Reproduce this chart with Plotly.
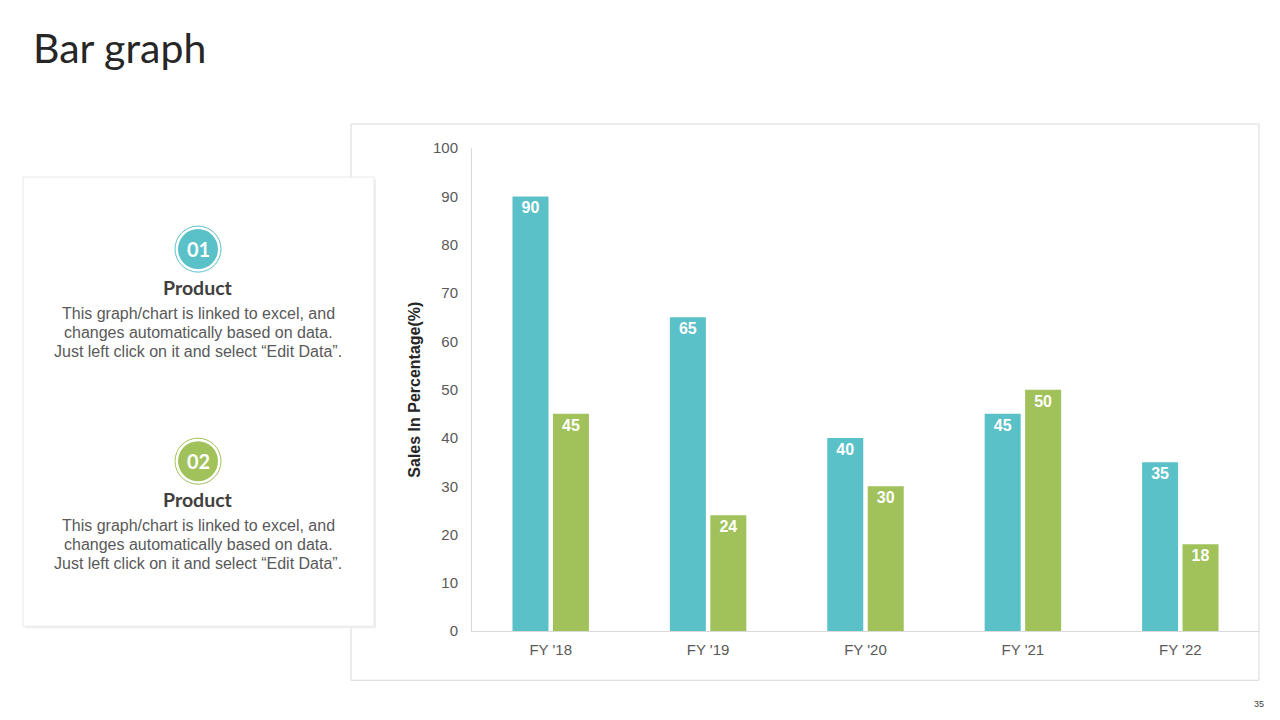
import plotly.graph_objects as go

categories = ["FY '18", "FY '19", "FY '20", "FY '21", "FY '22"]
product_01 = [90, 65, 40, 45, 35]
product_02 = [45, 24, 30, 50, 18]
y_ticks = list(range(0, 101, 10))

TEAL = "#5BC1C8"
GREEN = "#A1C25B"
W, H = 1280, 720

# the rendered page is slightly compressed vertically; compensate
Y_OFF, Y_SCALE = 9.0, 0.976

def px(x):
    return x / W

def py(y):
    s = (y - Y_OFF) / Y_SCALE
    return 1 - s / H

fig = go.Figure()
for name, vals, col in [("Product 01", product_01, TEAL), ("Product 02", product_02, GREEN)]:
    fig.add_trace(go.Bar(
        x=categories, y=vals, name=name, marker=dict(color=col, line=dict(width=0)),
        text=[str(v) for v in vals], textposition="inside", insidetextanchor="end",
        textfont=dict(family="Liberation Sans, Arial", size=16, color="white", weight="bold"),
        textangle=0, cliponaxis=False,
    ))

fig.update_layout(
    width=W, height=H, margin=dict(l=0, r=0, t=0, b=0),
    paper_bgcolor="white", plot_bgcolor="white", showlegend=False,
    barmode="group", bargap=0.486, bargroupgap=0.11,
    uniformtext=dict(minsize=16, mode="show"),
    font=dict(family="Liberation Sans, Arial", color="#595959", size=14),
    xaxis=dict(domain=[px(472), px(1259)], showline=True, linecolor="#D9D9D9", linewidth=1,
               showgrid=False, ticks="", tickfont=dict(size=15, color="#595959"), ticklabelstandoff=5),
    yaxis=dict(domain=[py(631), py(148)], range=[0, 100], tickvals=y_ticks, showline=True,
               linecolor="#D9D9D9", linewidth=1, showgrid=False, zeroline=False, ticks="",
               tickfont=dict(size=15, color="#595959"), ticklabelstandoff=10,
               title=dict(text="Sales In Percentage(%)", standoff=8,
                          font=dict(size=16, color="#262626", weight="bold"))),
)

shapes = []
# chart panel border
shapes.append(dict(type="rect", xref="paper", yref="paper", x0=px(351), x1=px(1259), y0=py(680), y1=py(124),
                   line=dict(color="#D9D9D9", width=1), fillcolor="rgba(0,0,0,0)", layer="below"))
# left panel shadow + box
shapes.append(dict(type="rect", xref="paper", yref="paper", x0=px(25), x1=px(376), y0=py(628), y1=py(179),
                   line=dict(width=0), fillcolor="#F0F0F0", layer="below"))
shapes.append(dict(type="rect", xref="paper", yref="paper", x0=px(23), x1=px(374), y0=py(626), y1=py(177),
                   line=dict(color="#E8E8E8", width=1), fillcolor="white", layer="below"))

badges = [("01", 249, TEAL, 287, [313, 332, 351]), ("02", 461, GREEN, 499, [525, 544, 563])]
body = ["This graph/chart is linked to excel, and",
        "changes automatically based on data.",
        "Just left click on it and select \u201cEdit Data\u201d."]
annotations = []
for num, cy, col, ty, lines in badges:
    cx = 198
    shapes.append(dict(type="circle", xref="paper", yref="paper", x0=px(cx - 23), x1=px(cx + 23),
                       y0=py(cy + 23), y1=py(cy - 23), line=dict(color=col, width=1), fillcolor="white"))
    shapes.append(dict(type="circle", xref="paper", yref="paper", x0=px(cx - 20), x1=px(cx + 20),
                       y0=py(cy + 20), y1=py(cy - 20), line=dict(width=0), fillcolor=col))
    annotations.append(dict(text=num, x=px(cx), y=py(cy), xref="paper", yref="paper", showarrow=False,
                            xanchor="center", yanchor="middle",
                            font=dict(family="Lato, Liberation Sans", size=20, color="white", weight="bold")))
    annotations.append(dict(text="Product", x=px(cx), y=py(ty), xref="paper", yref="paper", showarrow=False,
                            xanchor="center", yanchor="middle",
                            font=dict(family="Lato, Liberation Sans", size=19.5, color="#404040", weight="bold")))
    for t, ly in zip(body, lines):
        annotations.append(dict(text=t, x=px(cx), y=py(ly), xref="paper", yref="paper", showarrow=False,
                                xanchor="center", yanchor="middle",
                                font=dict(family="Liberation Sans, Arial", size=16, color="#595959")))

annotations.append(dict(text="Bar graph", x=px(31), y=py(47), xref="paper", yref="paper", showarrow=False,
                        xanchor="left", yanchor="middle",
                        font=dict(family="Lato, Liberation Sans", size=41, color="#262626")))
annotations.append(dict(text="35", x=px(1266), y=py(704), xref="paper", yref="paper", showarrow=False,
                        xanchor="right", yanchor="middle",
                        font=dict(family="Liberation Sans, Arial", size=9, color="#404040")))

fig.update_layout(shapes=shapes, annotations=annotations)
fig.write_html("out.html")
